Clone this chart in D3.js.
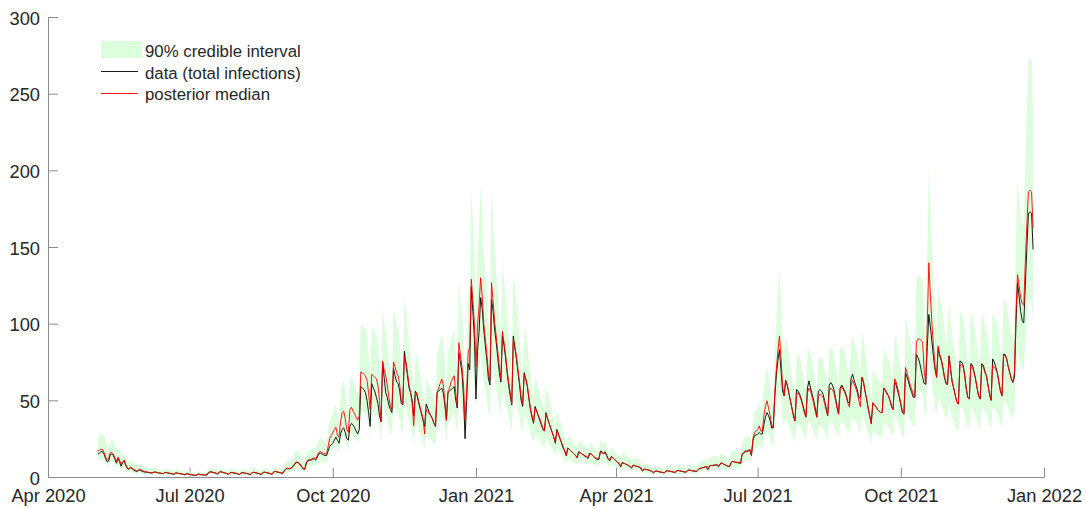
<!DOCTYPE html>
<html><head><meta charset="utf-8">
<script src="https://cdn.jsdelivr.net/npm/d3@7"></script>
<style>
body{margin:0;background:#fff}
svg{display:block}
text{font-family:"Liberation Sans",Arial,Helvetica,sans-serif}
</style>
</head><body>
<svg id="chart" width="1086" height="509"></svg>
<script>
// ---- data (daily, starting 2020-05-03) ----
const startDate = "2020-05-03";
const xTickDates = ["2020-04-01","2020-07-01","2020-10-01","2021-01-01","2021-04-01","2021-07-01","2021-10-01","2022-01-01"];
const xTickLabels = ["Apr 2020","Jul 2020","Oct 2020","Jan 2021","Apr 2021","Jul 2021","Oct 2021","Jan 2022"];
const yTicks = [0,50,100,150,200,250,300];
const legendLabels = ["90% credible interval","data (total infections)","posterior median"];

const posteriorMedian = [
17,17.5,18,18,16,13,11, 12,16,16,15,12.5,10,13, 11,8,10,11,8,6,5.5, 6.5,6,5,4.5,4,4.5,5,
4.5,4,3.5,3.5,3.2,3,2.8, 2.8,3.2,3.2,3,2.8,2.6,2.4, 2.2,2.8,2.9,2.7,2.5,2.3,2.1, 1.9,2.6,2.6,2.4,2.2,2,1.8,
1.5,2,2,1.8,1.6,1.4,1.2, 1,1.6,1.8,1.6,1.5,1.4,1.3, 1.4,2.6,3.2,3.3,3.1,2.8,2.5, 2,3,3.4,3.2,2.9,2.6,2.3,
1.8,2.6,2.9,2.8,2.6,2.4,2.1, 1.6,2.4,2.8,2.7,2.5,2.3,2, 1.5,2.6,3,2.9,2.7,2.4,2.1, 1.7,2.7,3.1,3,2.8,2.5,2.2,
1.8,3.2,3.6,3.4,3.2,2.9,2.6, 2.6,4.5,5.5,5.8,5.5,5.8,6.5, 8,9.5,9.8,9.5,8.5,7,5.5, 5.2,9.5,11,11.5,11.5,12,12.5,
11.5,14,16,16.5,16,15.5,15, 15,20,25,27,29,31,32.5, 27,26,36,42,43,38,31, 29,44,45.5,43,41,39,37,
40,68.5,68,67,66,63,55, 44,67,66,65,64,60,50, 36,75.7,70,66,60,52,46, 44,75,72,68,66,60,50,
47.5,79,75,68,60,55,48, 33.5,52,55,50,46,42,38, 28,44,43,41,40,38,35, 33,55,58,61,64,60,50,
37,56,58,62,64,66,55, 46,87.6,80,72,60,37,55, 81,85,129,115,100,72,98.5, 112,130,118,100,90,80,68,
62.7,126.7,115,101,92,82,72, 63.8,95,88,80,70,62,55, 47.5,90,85,79,70,62,52, 47.5,67,64,60,52,45,40,
35.6,45,43,40,38,35,32, 30,41,38,35,32,29,26, 22.6,30,28,25,22.6,20,17, 14,18.7,18,17,16,15,14,
13,16,16,15,14.5,14,13.5, 12.5,15,15,14,13,12.5,12, 12,16.5,16,15,16,14,12, 11,13,12.5,11.5,10.5,9.5,9,
7,9,9,8.5,8,7.5,7, 6,7.5,7.5,7,6.8,6.5,6, 4,5,5,4.8,4.5,4.2,3.8, 2.8,3.6,3.8,3.6,3.4,3.2,3,
2.8,3.8,4,3.9,3.7,3.5,3.3, 3,4,4.2,4,3.8,3.6,3.4, 3.2,4.2,4.5,4.3,4.1,4,3.8, 3.8,5,5.5,5.8,6.2,6.6,7,
5,7,7.5,7.5,7.8,8,8, 7,8.5,9,8.5,8,7.5,7, 7,9.5,10,10,9.8,9.5,9.5, 9,15,16,17,17,17.5,18,
14,25,29,30,31,33.4,30, 30,40,46,49.7,45,40,34, 32,55,70,82,92,78,60, 53,63,60,55,50,45,40,
36.6,54,55,53,50,46,42, 39,55,58,56,52,48,43, 39,53,54,53,52,48,44, 40,56,58,57,55,50,45,
41,57,59,57,55,52,48, 45.7,60,63,60,58,55,50, 45.7,65,62,56,51,45,40, 34.5,48.6,47,46,44,43,42,
42,58,56,54,53,50,46, 44,64,62,58,53,48,43, 41,71.4,68,64,60,57,54, 52,88,90,90,89,88,70,
60.5,100,139.7,118,100,85,72, 65,85.4,80,77,72,66,62, 60,79,70,62,58,53,49, 47.5,73,73,72,66,58,52,
50.8,73,72,68,64,58,53, 50.8,73,72,68,66,60,54, 50,73,72,70,68,62,56, 53,80,79,77,72,68,64,
62,68,108,132,125,117,113, 112,140,165,186,187,186,162.5
];

const dataTotal = [
15,15.5,16.5,16.5,15,12,10, 10.5,14.5,15,14,11.5,9,12, 10,7,9.5,10.5,7.5,5.5,5, 6,5.5,4.5,4,3.5,4.2,4.5,
4,3.5,3.2,3.2,3,2.8,2.6, 2.6,3.1,3.3,2.9,2.6,2.5,2.3, 2.1,2.9,3,2.6,2.4,2.2,2, 1.8,2.7,2.5,2.3,2.1,1.9,1.7,
1.4,2.1,1.9,1.7,1.5,1.3,1.1, 0.9,1.7,1.9,1.5,1.4,1.3,1.2, 1.3,2.7,3.4,3.3,3,2.7,2.4, 1.9,3.2,3.5,3.1,2.8,2.5,2.2,
1.7,2.8,3,2.7,2.5,2.3,2, 1.5,2.6,2.9,2.6,2.4,2.2,1.9, 1.4,2.8,3.1,2.8,2.6,2.3,2, 1.6,2.9,3.2,2.9,2.7,2.4,2.1,
1.7,3.3,3.7,3.3,3.1,2.8,2.5, 2.5,4.3,5.3,5.6,5.3,5.6,6.2, 7.5,9,9.5,9,8,6.6,5.2, 5,9,10.5,11,11,11.5,12,
11,13,15,15.5,15,14.5,14, 14,17,20,21,22,24,26, 24,22,28,31,32,29,25, 24,33,35,34,32,30,28,
31,59,58,57,55,50,42, 33,61,58,56,52,48,40, 36,75,65,55,52,47,44, 42,71,66,62,61,56,48,
47,82,74,66,58,55,50, 40,56,54,49,45,41,37, 33,47.5,45,42,40,38,35, 33,55,56,57,58,55,47,
37,55,56,57,58,59,50, 45,81,75,68,52,25,50, 74,70,124,108,90,50.8,82, 95,117,110,96,86,76,64,
60,116,108,96,88,78,68, 62,92,86,78,68,60,53, 47,92,84,77,68,60,50, 46,68,64,59,51,44,39,
35,46,43,40,37,34,31, 30,42,38,35,32,29,26, 22,31,28,25,22,19,17, 14,19,18,17,16,15,14,
12.5,16.5,16,15,14.5,13.5,13, 12,15.5,15,14,13,12,11.5, 11.5,17,16.5,15,16.5,14,11.5, 10.5,13.5,12.5,11.5,10.5,9.5,8.5,
6.5,9.5,9,8.5,8,7.5,6.8, 5.8,7.8,7.5,7,6.8,6.3,5.8, 3.8,5.2,5,4.8,4.5,4.1,3.7, 2.7,3.7,3.9,3.6,3.3,3.1,2.9,
2.6,3.9,4.1,3.9,3.6,3.4,3.2, 2.9,4.1,4.3,4,3.7,3.5,3.3, 3.1,4.3,4.6,4.3,4,3.9,3.7, 3.7,5.1,5.6,5.8,6.1,6.5,6.8,
4.8,7.2,7.6,7.4,7.7,7.8,7.8, 6.8,8.7,9.2,8.4,7.9,7.4,6.8, 6.8,9.6,10.2,9.8,9.6,9.3,9.2, 8.8,14.5,15.5,16.5,16.5,17,17.5,
14,24,27,27.5,28,29,28, 28,34,39,42,40,37,32, 32,52,66,76,83,70,56, 53,63,60,55,50,45,40,
36.6,57,56,54,51,47,43, 39,58,62.7,58,54,50,45, 39,56,57,56,54,50,45, 40,60,61.6,60,57,52,46,
41,58,60,58,56,53,49, 48,64,67,63,60,57,52, 52,65,62,56,51,45,40, 35,48,47,46,44,43,42,
42,58,57,55,53,50,46, 44,62,60,56,52,47,42, 41,68,65,62,58,55,52, 52,80,78,75,70,65,61,
60.5,85,106,98,88,78,70, 65,84,79,76,71,65,61, 60,79,70,62,58,53,49, 47.5,75.7,75,73,67,58,52,
50.8,74,73,69,64,58,53, 50.8,74,73,69,66,60,54, 50,77,75,72,68,62,56, 53,80,80,77,72,68,64,
61.6,65,100,126.7,118,108,102, 100.6,125,150,172,173,172,148.4
];

const ciUpper = [
26,27,28,29,27,24,21, 20,23,24,23.5,21,18,19, 18,15,16,16,13.5,11,10, 11,10.5,9.5,8.5,8,8.5,8.5,
8,7.5,7,6.5,6,5.8,5.5, 5.4,6,6,5.7,5.4,5,4.7, 4.3,5.4,5.5,5.2,4.9,4.5,4.2, 3.8,5,5,4.7,4.3,4,3.7,
3.2,4,4,3.7,3.3,3,2.6, 2.3,3.3,3.7,3.3,3.2,3,2.8, 3,5,6,6.2,5.9,5.4,4.9, 4,5.7,6.4,6,5.5,5,4.5,
3.7,5,5.5,5.4,5,4.7,4.2, 3.3,4.7,5.4,5.2,4.9,4.5,4, 3.2,5,5.7,5.5,5.2,4.7,4.2, 3.5,5.2,5.9,5.7,5.4,4.9,4.3,
3.7,6,6.7,6.4,6,5.5,5, 5,8.3,10,10.5,10,10.5,11.6, 14.2,16.8,17.3,16.8,15,12.5,10, 9.4,15.5,17,17.8,17.8,18.5,19.3,
17.8,21.5,24.5,25,24.5,23.5,23, 22,29,36.5,39.4,42.3,45.3,47.5, 39.4,38,52.6,61.3,62.8,55.5,45.3, 42.3,64.2,66.4,62.8,59.9,56.9,54,
58.4,100,99.3,97.8,96.4,92,80.3, 64.2,97.8,96.4,94.9,93.4,87.6,73, 52.6,110.5,102.2,96.4,87.6,75.9,67.2, 64.2,109.5,105.1,99.3,96.4,87.6,73,
69.4,115.3,109.5,99.3,87.6,80.3,70.1, 48.9,75.9,80.3,73,67.2,61.3,55.5, 40.9,64.2,62.8,59.9,58.4,55.5,51.1, 48.2,80.3,84.7,89.1,93.4,87.6,73,
54,81.8,84.7,90.5,93.4,96.4,80.3, 67.2,127.9,116.8,105.1,87.6,60,80.3, 118.3,124.1,188.3,167.9,146,105.1,143.8, 163.5,189.8,172.3,146,131.4,116.8,99.3,
91.5,185,167.9,147.5,134.3,119.7,105.1, 93.1,138.7,128.5,116.8,102.2,90.5,80.3, 69.4,131.4,124.1,115.3,102.2,90.5,75.9, 69.4,97.8,93.4,87.6,75.9,65.7,58.4,
52,65.7,62.8,58.4,55.5,51.1,46.7, 43.8,59.9,55.5,51.1,46.7,42.3,38, 33,43.8,40.9,36.5,33,29.2,24.8, 20.4,27.3,26.3,24.8,23.4,21.9,20.4,
19,23.4,23.4,21.9,21.2,20.4,19.7, 18.3,21.9,21.9,20.4,19,18.3,17.5, 17.5,24.1,23.4,21.9,23.4,20.4,17.5, 16.1,19,18.3,16.8,15.3,14.5,13.9,
12.2,15.5,15.5,14.6,13.8,13,12.2, 10.5,13,13,12.2,11.8,11.3,10.5, 7.2,8.9,8.9,8.5,8,7.5,6.9, 5.4,6.7,7,6.7,6.4,6,5.7,
5.4,7,7.4,7.2,6.9,6.6,6.2, 5.7,7.4,7.7,7.4,7,6.7,6.4, 6,7.7,8.2,7.9,7.6,7.4,7, 7,9.1,9.9,10.3,11,11.6,12.2,
8.9,12.2,13,13,13.5,13.8,13.8, 12.2,14.6,15.5,14.6,13.8,13,12.2, 12.2,16.3,17.1,17.1,16.8,16.3,16.3, 15.5,23,24.5,26,26,26.5,27.5,
20.4,36.5,42.3,43.8,45.3,48.8,43.8, 43.8,58.4,67.2,72.6,65.7,58.4,49.6, 46.7,80.3,102.2,119.7,134.3,113.9,87.6, 77.4,92,87.6,80.3,73,65.7,58.4,
53.4,78.8,80.3,77.4,73,67.2,61.3, 56.9,80.3,84.7,81.8,75.9,70.1,62.8, 56.9,77.4,78.8,77.4,75.9,70.1,64.2, 58.4,81.8,84.7,83.2,80.3,73,65.7,
59.9,83.2,86.1,83.2,80.3,75.9,70.1, 66.7,87.6,92,87.6,84.7,80.3,73, 66.7,94.9,90.5,81.8,74.5,65.7,58.4, 50.4,71,68.6,67.2,64.2,62.8,61.3,
61.3,84.7,81.8,78.8,77.4,73,67.2, 64.2,93.4,90.5,84.7,77.4,70.1,62.8, 59.9,104.2,99.3,93.4,87.6,83.2,78.8, 75.9,128.5,131.4,131.4,129.9,128.5,102.2,
88.3,146,204,172.3,146,124.1,105.1, 94.9,124.7,116.8,112.4,105.1,96.4,90.5, 87.6,115.3,102.2,90.5,84.7,77.4,71.5, 69.4,106.6,106.6,105.1,96.4,84.7,75.9,
74.2,106.6,105.1,99.3,93.4,84.7,77.4, 74.2,106.6,105.1,99.3,96.4,87.6,78.8, 73,106.6,105.1,102.2,99.3,90.5,81.8, 77.4,116.8,115.3,112.4,105.1,99.3,93.4,
90.5,99.3,157.7,192.7,182.5,170.8,165, 163.5,204.4,240.9,271.6,273,271.6,237.3
];

const ciLower = [
10,10.5,11,11.5,11,9,7.5, 7.5,9.5,10.5,10,8.5,6.5,7.5, 6.5,4.5,5.5,6,4.5,3.2,3, 3.5,3.2,2.8,2.5,2.2,2.5,2.7,
2.4,2.1,1.9,1.9,1.7,1.6,1.5, 1.5,1.8,1.8,1.7,1.5,1.4,1.3, 1.2,1.5,1.6,1.5,1.4,1.3,1.2, 1,1.4,1.4,1.3,1.2,1.1,1,
0.8,1.1,1.1,1,0.9,0.8,0.7, 0.6,0.9,1,0.9,0.8,0.8,0.7, 0.8,1.4,1.8,1.8,1.7,1.5,1.4, 1.1,1.7,1.9,1.8,1.6,1.4,1.3,
1,1.4,1.6,1.5,1.4,1.3,1.2, 0.9,1.3,1.5,1.5,1.4,1.3,1.1, 0.8,1.4,1.7,1.6,1.5,1.3,1.2, 0.9,1.5,1.7,1.7,1.5,1.4,1.2,
1,1.8,2,1.9,1.8,1.6,1.4, 1.4,2.5,3,3.2,3,3.2,3.6, 4.4,5.2,5.4,5.2,4.7,3.9,3, 2.9,5.2,6.8,7.1,7.1,7.4,7.8,
7,8.7,9.9,10.2,9.9,9.6,9.3, 9.3,12.4,15.5,16.7,18,19.2,20.2, 16.7,16.1,22.3,26,26.7,23.6,19.2, 18,27.3,28.2,26.7,25.4,24.2,22.9,
24.8,42.5,42.2,41.5,40.9,39,34.1, 27.3,41.5,40.9,40.3,39.7,37.2,31, 22.3,46.9,43.4,40.9,37.2,32.2,28.5, 27.3,46.5,44.6,42.2,40.9,37.2,31,
29.5,49,46.5,42.2,37.2,34.1,29.8, 20.8,32.2,34.1,31,28.5,26,23.6, 17.4,27.3,26.7,25.4,24.8,23.6,21.7, 20.5,34.1,36,37.8,39.7,37.2,31,
22.9,34.7,36,38.4,39.7,40.9,34.1, 28.5,54.3,49.6,44.6,37.2,28,34.1, 50.2,52.7,80,71.3,62,44.6,61.1, 69.4,80.6,73.2,62,55.8,49.6,42.2,
38.9,78.6,71.3,62.6,57,50.8,44.6, 39.6,58.9,54.6,49.6,43.4,38.4,34.1, 29.5,55.8,52.7,49,43.4,38.4,32.2, 29.5,41.5,39.7,37.2,32.2,27.9,24.8,
22.1,27.9,26.7,24.8,23.6,21.7,19.8, 18.6,25.4,23.6,21.7,19.8,18,16.1, 14,18.6,17.4,15.5,14,12.4,10.5, 8.7,11.6,11.2,10.5,9.9,9.3,8.7,
8.1,9.9,9.9,9.3,9,8.7,8.4, 7.8,9.3,9.3,8.7,8.1,7.8,7.4, 7.4,10.2,9.9,9.3,9.9,8.7,7.4, 6.8,8.1,7.8,7.1,6.5,5.7,5.4,
4.2,5.4,5.4,5.1,4.8,4.5,4.2, 3.6,4.5,4.5,4.2,4.1,3.9,3.6, 2.2,2.8,2.8,2.6,2.5,2.3,2.1, 1.5,2,2.1,2,1.9,1.8,1.7,
1.5,2.1,2.2,2.1,2,1.9,1.8, 1.7,2.2,2.3,2.2,2.1,2,1.9, 1.8,2.3,2.5,2.4,2.3,2.2,2.1, 2.1,3,3.3,3.5,3.7,4,4.2,
3,4.2,4.5,4.5,4.7,4.8,4.8, 4.2,5.1,5.4,5.1,4.8,4.5,4.2, 4.2,5.7,6,6,5.9,5.7,5.7, 5.4,9.3,9.9,10.5,10.5,10.9,11.2,
8.7,15.5,18,18.6,19.2,20.7,18.6, 18.6,24.8,28.5,30.8,27.9,24.8,21.1, 19.8,34.1,43.4,50.8,57,48.4,37.2, 32.9,39,37.2,34.1,31,27.9,24.8,
22.7,33.5,34.1,32.9,31,28.5,26, 24.2,34.1,36,34.7,32.2,29.8,26.7, 24.2,32.9,33.5,32.9,32.2,29.8,27.3, 24.8,34.7,36,35.3,34.1,31,27.9,
25.4,35.3,36.6,35.3,34.1,32.2,29.8, 28.3,37.2,39,37.2,36,34.1,31, 28.3,40.3,38.4,34.7,31.6,27.9,24.8, 21.4,30.1,29.1,28.5,27.3,26.7,26,
26,36,34.7,33.5,32.9,31,28.5, 27.3,39.7,38.4,36,32.9,29.8,26.7, 25.4,44.3,42.2,39.7,37.2,35.3,33.5, 32.2,54.6,55.8,55.8,55.2,54.6,43.4,
37.5,62,86.6,73.2,62,52.7,44.6, 40.3,52.9,49.6,47.7,44.6,40.9,38.4, 37.2,49,43.4,38.4,36,32.9,30.4, 29.5,45.3,45.3,44.6,40.9,36,32.2,
31.5,45.3,44.6,42.2,39.7,36,32.9, 31.5,45.3,44.6,42.2,40.9,37.2,33.5, 31,45.3,44.6,43.4,42.2,38.4,34.7, 32.9,49.6,49,47.7,44.6,42.2,39.7,
38.4,42.2,67,81.8,77.5,72.5,70.1, 69.4,86.8,102.3,115.3,115.9,115.3,100.8
];

// ---- checks ----
const n = dataTotal.length;
if (posteriorMedian.length !== n || ciUpper.length !== n || ciLower.length !== n) {
  throw new Error("length mismatch " + [n, posteriorMedian.length, ciUpper.length, ciLower.length].join(","));
}

// ---- style ----
const bandColor = "#ddfedd";
const axisColor = "#8c8c8c";
const textColor = "#262626";
const font = '"Liberation Sans", Arial, Helvetica, sans-serif';

const parse = d3.utcParse("%Y-%m-%d");
const t0 = parse(startDate);
const dates = dataTotal.map((_, i) => d3.utcDay.offset(t0, i));
const idx = d3.range(n);

const svg = d3.select("#chart");

const x = d3.scaleUtc().domain([parse("2020-04-01"), parse("2022-01-01")]).range([48, 1044]);
const y = d3.scaleLinear().domain([0, 300]).range([477, 17]);

// axes (drawn below data, like MATLAB's default layer)
const xAxis = d3.axisBottom(x)
  .tickValues(xTickDates.map(parse))
  .tickFormat((d, i) => xTickLabels[i])
  .tickSizeInner(-9.5).tickSizeOuter(0);
const gx = svg.append("g").attr("transform", `translate(0,${y(0)})`).call(xAxis);

const yAxis = d3.axisLeft(y)
  .tickValues(yTicks)
  .tickFormat(d3.format("d"))
  .tickSizeInner(-10).tickSizeOuter(0);
const gy = svg.append("g").attr("transform", `translate(${x(parse("2020-04-01"))},0)`).call(yAxis);

[gx, gy].forEach(g => {
  g.attr("font-family", font).attr("font-size", null).attr("color", axisColor);
  g.selectAll("text").attr("fill", textColor).style("font-size", "18.3px");
});
gx.selectAll("text").attr("y", 25).attr("dy", "0");
gy.selectAll("text").attr("x", -8).attr("dy", "0").attr("y", 7);

// band
const area = d3.area()
  .x(i => x(dates[i]))
  .y0(i => y(ciLower[i]))
  .y1(i => y(ciUpper[i]));
svg.append("path").datum(idx).attr("d", area).attr("fill", bandColor).attr("stroke", "none");

// lines
const lineOf = arr => d3.line().x(i => x(dates[i])).y(i => y(arr[i]));
svg.append("path").datum(idx).attr("d", lineOf(dataTotal))
  .attr("fill", "none").attr("stroke", "#000").attr("stroke-width", 0.9).attr("stroke-linejoin", "round");
svg.append("path").datum(idx).attr("d", lineOf(posteriorMedian))
  .attr("fill", "none").attr("stroke", "#ff0000").attr("stroke-width", 0.9).attr("stroke-linejoin", "round");

// legend
const lg = svg.append("g").attr("font-family", font).style("font-size", "16.8px").attr("fill", textColor);
const rows = [57.3, 78.7, 100];
lg.append("rect").attr("x", 101).attr("y", 41).attr("width", 41).attr("height", 17).attr("fill", bandColor);
lg.append("line").attr("x1", 101).attr("x2", 138).attr("y1", 71.5).attr("y2", 71.5).attr("stroke", "#000").attr("stroke-width", 0.9);
lg.append("line").attr("x1", 101).attr("x2", 138).attr("y1", 93.5).attr("y2", 93.5).attr("stroke", "#ff0000").attr("stroke-width", 0.9);
legendLabels.forEach((t, i) => {
  lg.append("text").attr("x", 145).attr("y", rows[i]).text(t);
});
</script>
</body></html>
